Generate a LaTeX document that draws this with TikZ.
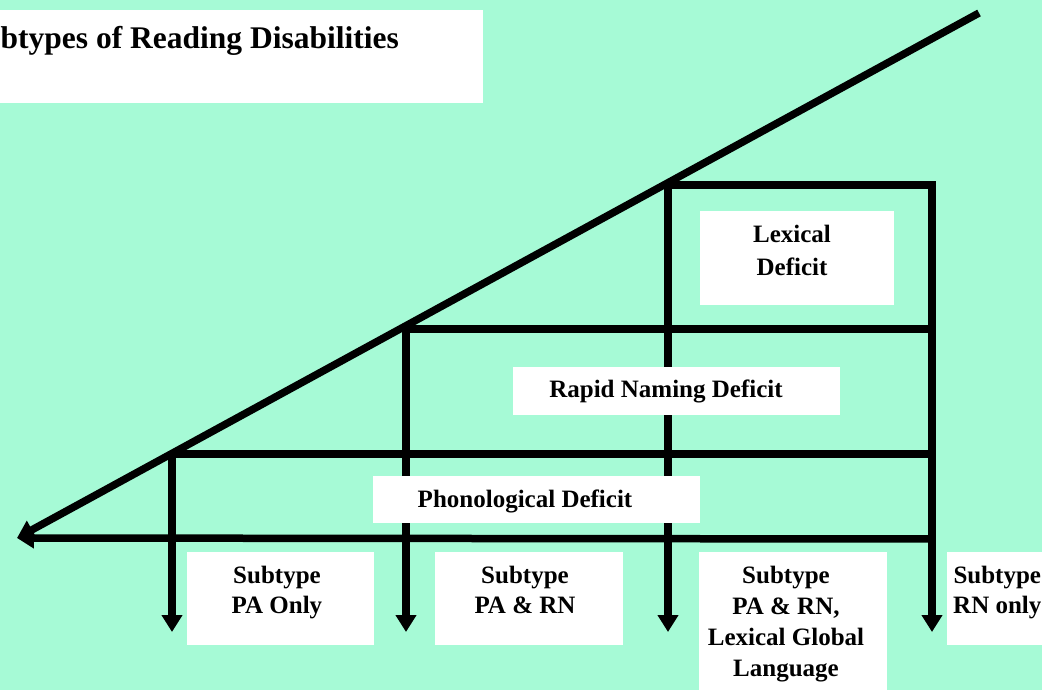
\documentclass[tikz,border=0pt]{standalone}
\usepackage{fontspec}
\setmainfont{Liberation Serif}
\usetikzlibrary{arrows.meta}
\definecolor{mint}{HTML}{A6FAD6}
\begin{document}
\begin{tikzpicture}[x=1pt,y=-1pt,
  ln/.style={line width=7.5pt, line join=miter},
  arr/.style={ln, -{Triangle[width=20pt,length=17pt]}},
  wbox/.style={fill=white, draw=none, inner sep=0pt, outer sep=0pt, anchor=north west},
  lbl/.style={font=\bfseries\fontsize{25}{30}\selectfont, align=center, inner sep=0pt, anchor=north},
]
\fill[mint] (0,0) rectangle (1042,690);
\useasboundingbox (0,0) rectangle (1042,690);
\clip (0,0) rectangle (1042,690);

% junction points
\coordinate (top) at (979,13);
\coordinate (tip) at (17,538);
\coordinate (c1) at (668,185);
\coordinate (c2) at (932,185);
\coordinate (b4) at (932,539);
\coordinate (d2) at (406,329);
\coordinate (r2) at (932,329);
\coordinate (d3) at (172,454);
\coordinate (r3) at (932,454);
\coordinate (e1) at (172,632);
\coordinate (e2) at (406,632);
\coordinate (e3) at (668,632);
\coordinate (e4) at (932,632);

% lines
\draw[arr] (top) -- (tip);
\draw[arr] (b4) -- (tip);
\draw[ln] (c1) -- (c2) -- (b4);
\draw[arr] (b4) -- (e4);
\draw[arr] (c1) -- (e3);
\draw[arr] (d2) -- (e2);
\draw[arr] (d3) -- (e1);
\draw[ln] (d2) -- (r2);
\draw[ln] (d3) -- (r3);

% title
\node[wbox, minimum width=483pt, minimum height=93pt] (tbox) at (0,10) {};
\node[font=\bfseries\fontsize{31.5}{38}\selectfont, anchor=base east, inner sep=0pt] (title) at (399,49) {Subtypes of Reading Disabilities};

% deficit boxes
\node[wbox, minimum width=194pt, minimum height=94pt] (lexbox) at (700,211) {};
\node[lbl, font=\bfseries\fontsize{25}{33}\selectfont] (lex) at (792,225) {Lexical\\Deficit};
\node[wbox, minimum width=327pt, minimum height=48pt] (rnbox) at (513,367) {};
\node[lbl] (rn) at (666,380) {Rapid Naming Deficit};
\node[wbox, minimum width=327pt, minimum height=47pt] (phbox) at (373,476) {};
\node[lbl] (ph) at (525,490) {Phonological Deficit};

% subtype boxes
\node[wbox, minimum width=187pt, minimum height=93pt] (s1box) at (187,552) {};
\node[lbl] (s1) at (277,566) {Subtype\\PA Only};
\node[wbox, minimum width=188pt, minimum height=93pt] (s2box) at (435,552) {};
\node[lbl] (s2) at (525,566) {Subtype\\PA \& RN};
\node[wbox, minimum width=188pt, minimum height=140pt] (s3box) at (699,552) {};
\node[lbl, font=\bfseries\fontsize{25}{31}\selectfont] (s3) at (786,566) {Subtype\\PA \& RN,\\Lexical Global\\Language};
\node[wbox, minimum width=190pt, minimum height=93pt] (s4box) at (947,552) {};
\node[lbl, anchor=north west] (s4) at (953,566) {Subtype\\RN only};
\end{tikzpicture}
\end{document}
